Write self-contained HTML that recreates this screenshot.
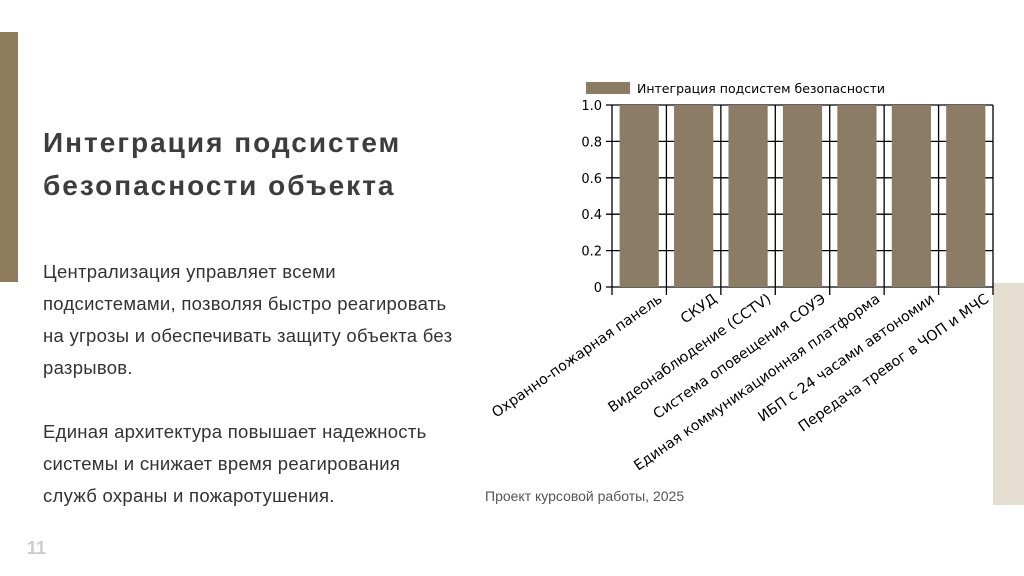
<!DOCTYPE html>
<html><head><meta charset="utf-8"><style>
body{margin:0;width:1024px;height:576px;background:#fff;position:relative;overflow:hidden;font-family:"Liberation Sans","DejaVu Sans",sans-serif;}
.abs{position:absolute;}
h1{position:absolute;left:43px;top:121px;margin:0;font-size:28px;line-height:43px;font-weight:bold;color:#3d3d3d;letter-spacing:2px;}
.body{left:43px;top:256px;font-size:18.5px;line-height:32px;color:#333;width:440px;letter-spacing:0.28px;}
#chart text{font-family:"DejaVu Sans",sans-serif;}
</style></head><body>
<div class="abs" style="left:0;top:32px;width:18px;height:250px;background:#8f7c5c"></div>
<div class="abs" style="left:993px;top:283px;width:31px;height:222px;background:#e5ddd2"></div>
<h1>Интеграция подсистем<br>безопасности объекта</h1>
<div class="abs body">Централизация управляет всеми<br>подсистемами, позволяя быстро реагировать<br>на угрозы и обеспечивать защиту объекта без<br>разрывов.<br><br>Единая архитектура повышает надежность<br>системы и снижает время реагирования<br>служб охраны и пожаротушения.</div>
<div class="abs" style="left:485px;top:488px;font-size:14px;color:#555">Проект курсовой работы, 2025</div>
<div class="abs" style="left:27px;top:538px;font-size:18px;font-weight:bold;color:#ccc">11</div>
<svg id="chart" class="abs" style="left:0;top:0" width="1024" height="576"></svg>
<script>
const categories=["Охранно-пожарная панель","СКУД","Видеонаблюдение (CCTV)","Система оповещения СОУЭ","Единая коммуникационная платформа","ИБП с 24 часами автономии","Передача тревог в ЧОП и МЧС"];
const values=[1,1,1,1,1,1,1];
const yTicks=[0,0.2,0.4,0.6,0.8,1.0];
const yTickLabels=["0","0.2","0.4","0.6","0.8","1.0"];
const seriesName="Интеграция подсистем безопасности";
const svg=document.getElementById('chart');const NS="http://www.w3.org/2000/svg";
const X0=612,X1=993,Y0=287,Y1=105;const slot=(X1-X0)/categories.length;
const y=v=>Y0-(v/1)*(Y0-Y1);const xc=i=>X0+slot*(i+0.5);
function mk(t,a){const e=document.createElementNS(NS,t);for(const k in a)e.setAttribute(k,a[k]);svg.appendChild(e);return e;}
yTicks.forEach((t,i)=>{const l=mk('line',{x1:X0-6,x2:X1,y1:y(t),y2:y(t),stroke:'#000','stroke-width':1.3});


const tx=mk('text',{x:X0-10,y:y(t)+5,'text-anchor':'end','font-size':13,fill:'#000'});tx.textContent=yTickLabels[i];

});
for(let i=0;i<=categories.length;i++){const l=mk('line',{x1:X0+slot*i,x2:X0+slot*i,y1:Y1,y2:Y0+8,stroke:'#000','stroke-width':1.3});

}
values.forEach((v,i)=>{const bw=slot*0.72;const r=mk('rect',{x:xc(i)-bw/2,y:y(v),width:bw,height:Y0-y(v),fill:'#8c7b65'});


const ax=xc(i)+24,ay=Y0+14;
const t=mk('text',{x:ax,y:ay,'text-anchor':'end','font-size':14.3,fill:'#000',transform:`rotate(-35 ${ax} ${ay})`});t.textContent=categories[i];

});
const lg=mk('rect',{x:586,y:82,width:44,height:12,fill:'#8c7b65'});


const lt=mk('text',{x:637,y:93,'font-size':12.5,fill:'#000'});lt.textContent=seriesName;


</script>
</body></html>
